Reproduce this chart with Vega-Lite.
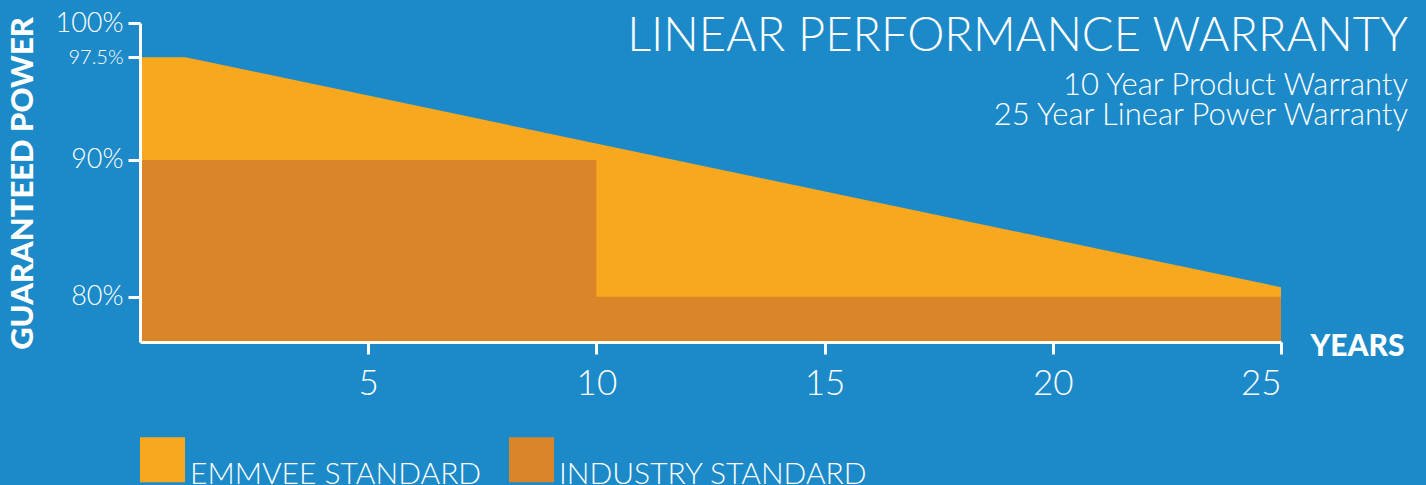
{
  "$schema": "https://vega.github.io/schema/vega-lite/v6.json",
  "width": 1141,
  "height": 319,
  "autosize": {"type": "none"},
  "padding": {"left": 140, "top": 23, "right": 145, "bottom": 143},
  "background": "#1c8ac8",
  "config": {"view": {"stroke": null}, "font": "Lato"},
  "title": {
    "text": "LINEAR PERFORMANCE WARRANTY",
    "subtitle": ["10 Year Product Warranty", "25 Year Linear Power Warranty"],
    "anchor": "end",
    "frame": "group",
    "offset": 0,
    "dx": 127,
    "dy": 123,
    "color": "white",
    "fontSize": 47,
    "fontWeight": 300,
    "subtitleColor": "white",
    "subtitleFontSize": 31,
    "subtitleFontWeight": 300,
    "subtitleLineHeight": 30,
    "subtitlePadding": 10
  },
  "data": {
    "values": [
      {"year": 0, "power": 97.5, "series": "EMMVEE STANDARD"},
      {"year": 1, "power": 97.5, "series": "EMMVEE STANDARD"},
      {"year": 25, "power": 80.7, "series": "EMMVEE STANDARD"},
      {"year": 0, "power": 90, "series": "INDUSTRY STANDARD"},
      {"year": 10, "power": 80, "series": "INDUSTRY STANDARD"},
      {"year": 25, "power": 80, "series": "INDUSTRY STANDARD"}
    ]
  },
  "encoding": {
    "x": {
      "field": "year",
      "type": "quantitative",
      "scale": {"domain": [0, 25], "nice": false},
      "axis": {
        "values": [5, 10, 15, 20, 25],
        "grid": false,
        "domainColor": "white",
        "domainWidth": 3,
        "tickColor": "white",
        "tickWidth": 3,
        "tickSize": 12,
        "labelColor": "white",
        "labelFontSize": 35,
        "labelFontWeight": 300,
        "labelPadding": 12,
        "title": "YEARS",
        "titleColor": "white",
        "titleFontSize": 30,
        "titleFontWeight": 900,
        "titleAlign": "left",
        "titleBaseline": "middle",
        "titleX": 1170,
        "titleY": 4,
        "zindex": 1
      }
    },
    "y": {
      "field": "power",
      "type": "quantitative",
      "scale": {"domain": [76.7, 100], "nice": false, "zero": false},
      "axis": {
        "values": [80, 90, 97.5, 100],
        "grid": false,
        "labelExpr": "datum.value + '%'",
        "domainColor": "white",
        "domainWidth": 3,
        "tickColor": "white",
        "tickWidth": 3,
        "tickSize": 12,
        "labelColor": "white",
        "labelFontSize": {"expr": "datum.value === 97.5 ? 20 : 27"},
        "labelFontWeight": 300,
        "labelPadding": 5,
        "title": "GUARANTEED POWER",
        "titleColor": "white",
        "titleFontSize": 31,
        "titleFontWeight": 900,
        "titleAlign": "center",
        "titleBaseline": "middle",
        "titleX": -117,
        "titleY": 160,
        "zindex": 1
      }
    },
    "y2": {"datum": 76.7},
    "color": {
      "field": "series",
      "type": "nominal",
      "scale": {"domain": ["EMMVEE STANDARD", "INDUSTRY STANDARD"], "range": ["#f8a81f", "#da8628"]},
      "legend": {
        "title": null,
        "orient": "none",
        "direction": "horizontal",
        "legendX": 0,
        "legendY": 414,
        "symbolType": "square",
        "symbolSize": 2025,
        "symbolStrokeWidth": 0,
        "symbolOpacity": 1,
        "labelColor": "white",
        "labelFontSize": 30,
        "labelFontWeight": 300,
        "labelBaseline": "top",
        "labelOffset": 5,
        "labelLimit": 400,
        "columnPadding": 27
      }
    }
  },
  "layer": [
    {
      "transform": [{"filter": "datum.series === 'EMMVEE STANDARD'"}],
      "mark": {"type": "area", "interpolate": "linear", "opacity": 1, "clip": true}
    },
    {
      "transform": [{"filter": "datum.series === 'INDUSTRY STANDARD'"}],
      "mark": {"type": "area", "interpolate": "step-after", "opacity": 1, "clip": true}
    }
  ]
}
